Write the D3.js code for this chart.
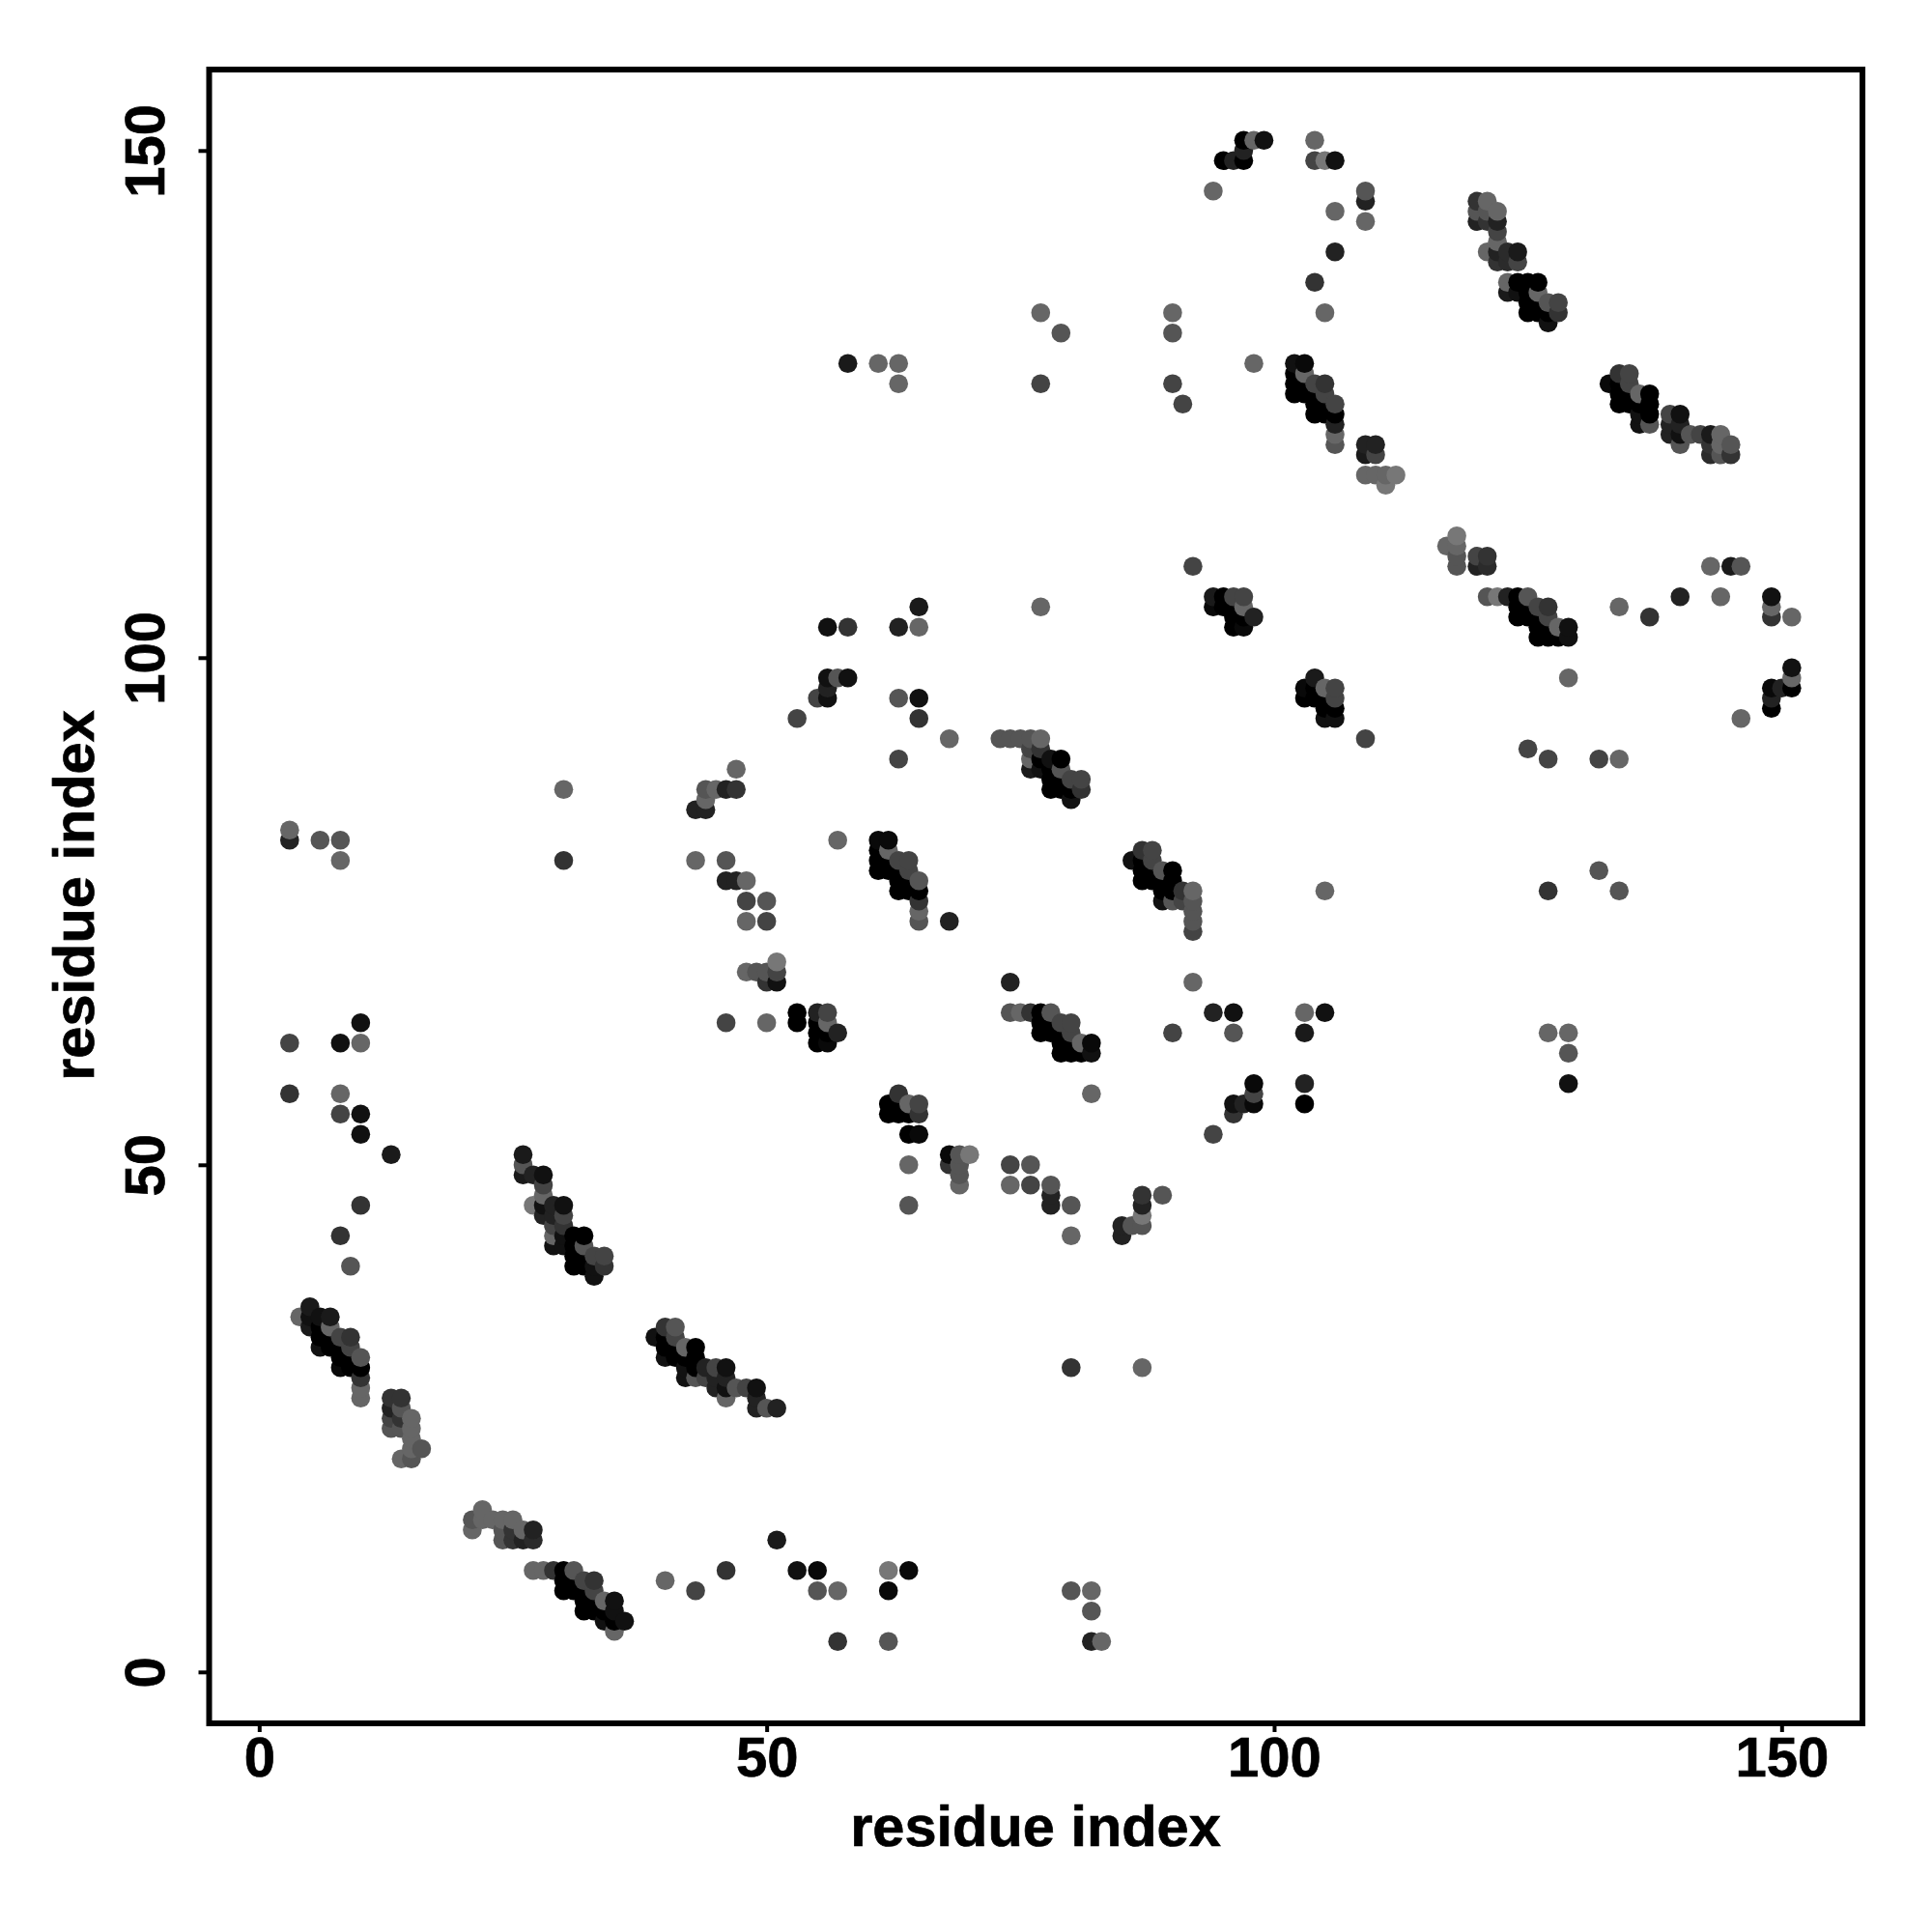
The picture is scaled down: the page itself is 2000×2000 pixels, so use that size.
<!DOCTYPE html>
<html><head><meta charset="utf-8">
<script src="https://cdn.jsdelivr.net/npm/d3@7"></script>
<style>html,body{margin:0;background:#fff}svg{display:block}</style>
</head><body><div id="chart"></div>
<script>
// each contact: [residue i, residue j, score]; score 0 (weak, light) .. 7 (strong, black)
const scattered = [[3,82,5],[3,83,1],[6,82,2],[8,82,2],[8,80,1],[30,87,1],[30,80,4],[3,62,3],[3,57,4],[8,62,6],[10,64,6],[10,62,1],[8,57,1],[8,55,3],[10,55,6],[10,53,6],[13,51,5.5],[10,46,4],[8,43,4],[9,40,2],
[40,9,1],[43,8,3],[46,10,4],[51,13,5.5],[53,10,6],[55,10,6.5],[55,8,2],[57,8,1],[57,3,4],[62,10,0],[64,10,6.5],[62,8,6.5],[62,3,2],[80,8,2],[82,8,1],[82,6,2],[82,3,5],[83,3,1],[80,30,4],[87,30,1],
[64,50,1],[64,46,2],[74,50,3],[74,48,1],[76,50,2],[76,48,3],[78,48,2],[78,47,5],[78,46,5],[80,46,2],[80,43,1],[85,44,5],[85,43,5],[86,44,2],[87,47,4],[87,46,5],[87,45,0],[87,44,2],[89,47,2],
[47,89,1],[47,87,4],[46,87,5],[45,87,1],[44,87,2],[44,86,1],[44,85,5],[43,85,5],[57,82,1],[68,74,5],[43,80,1],[46,80,2],[46,78,5],[47,78,5],[48,78,1],[48,76,3],[50,76,2],[48,74,1],[50,74,3],
[46,64,3],[50,64,1],[63,90,3],[68,92,1],[53,94,3],[65,94,4],[74,68,5],[92,68,1],[82,57,1],[90,63,3],[94,65,5],[96,65,6],[96,63,2],[103,65,1],[105,65,6],[103,63,5.5],[103,58,5],[103,56,7],[94,53,3],
[105,77,1],[109,92,3],[92,109,3],[129,98,1],[134,105,1],[137,104,4],[140,106,5],[144,106,1],[143,109,1],[145,109,5.5],[146,109,2],[149,106,6],[149,105,1],[149,104,4],[151,104,1],[146,94,1],
[125,91,3],[127,90,3],[132,90,3],[134,90,1],[132,79,2],[134,77,2],[127,77,4],[127,63,1],[129,63,1],[129,61,2],[129,58,6],
[94,146,1],[104,151,1],[104,149,3],[105,149,0],[106,149,6],[109,146,2],[109,145,5],[109,143,1],[106,144,1],[106,140,5],[104,137,4],[105,134,1],
[77,134,1],[79,132,2],[77,127,3],[90,134,1],[90,132,2],[90,127,3],[91,125,3],[98,129,1],[58,129,5.5],[61,129,1],[63,129,1],[63,127,1],
[77,105,1],[58,103,4],[56,103,6],[63,103,5],[65,103,1],[65,105,5.5],[63,96,2],[65,96,6]];

const helixA = [[4,35,1],[5,36,5.5],[5,35,6],[5,34,5.5],[6,35,6],[6,34,7],[6,33,7],[6,32,6],[7,35,5.5],[7,34,1],[7,33,7],[7,32,7],[8,33,3],[8,32,7],[8,31,7],[8,30,6.5],[9,33,4],[9,32,3],[9,31,7],[9,30,7],[10,31,2],[10,30,7],[10,29,4],[10,28,1],[10,27,1]];
const blobA = [[13,27,4],[13,26,5],[13,25,3],[13,24,2],[14,27,4],[14,26,2],[14,25,4],[14,24,2],[14,21,1],[15,25,1],[15,24,1],[15,23,1],[15,22,1],[15,21,2],[16,22,2]];
const helixB = [[26,51,5.5],[26,50,2],[26,49,5.5],[27,49,5],[27,46,0],[28,49,6],[28,48,3],[28,47,1],[28,46,6],[28,45,5],[29,46,5],[29,45,5],[29,44,3],[29,43,1],[29,42,6],[30,46,6],[30,45,3],[30,44,4],[30,43,6],[30,42,6],[31,43,7],[31,42,7],[31,41,7],[31,40,7],[32,43,7],[32,42,2],[32,41,7],[32,40,7],[33,41,3],[33,40,6],[33,39,6],[34,41,3],[34,40,4]];
const helixC = [[39,33,6],[40,34,4],[40,33,7],[40,32,7],[40,31,6],[41,34,2],[41,33,3],[41,32,7],[41,31,7],[42,32,1],[42,31,7],[42,30,6],[42,29,6],[43,32,7],[43,31,7],[43,30,7],[43,29,2],[44,30,5],[44,29,3],[45,30,3],[45,29,5],[45,28,5],[46,30,6],[46,29,5],[46,28,6],[46,27,1],[47,28,2],[48,28,3],[49,28,6],[49,27,5],[49,26,5],[50,26,2],[51,26,5]];
const strandA = [[21,15,2],[21,14,1],[22,16,1],[22,15,1],[23,15,1],[24,15,1],[24,14,2],[24,13,2],[25,15,1],[25,14,4],[25,13,4],[26,14,1],[26,13,5],[27,14,5],[27,13,4.5]];
const helixD = [[27,10,1],[28,10,1],[29,10,4],[30,10,7],[30,9,7],[30,8,7],[31,10,2],[31,9,7],[31,8,7],[32,9,3],[32,8,7],[32,7,7],[32,6,7],[33,9,4],[33,8,3],[33,7,7],[33,6,7],[34,7,1],[34,6,7],[34,5,6],[35,7,6],[35,6,6],[35,5,7],[35,4,1],[36,5,6]];
const blobB = [[62,56,7],[62,55,7],[63,57,4],[63,56,7],[63,55,7],[64,56,1],[64,55,7],[64,53,7],[65,56,3],[65,55,4],[65,53,6.5],[68,51,6.5],[68,50,4],[69,51,2],[69,50,2],[69,49,2],[69,48,1],[70,51,0]];
const helixE = [[61,82,6.5],[61,81,7],[61,80,7],[61,79,7],[62,82,6.5],[62,81,1],[62,80,7],[62,79,7],[63,80,3],[63,79,7],[63,78,7],[63,77,7],[64,80,3],[64,79,3],[64,78,7],[64,77,7],[65,78,2],[65,77,7],[65,76,4],[65,75,1],[65,74,2]];
const blobC = [[48,69,1],[49,69,2],[50,69,2],[50,68,4],[51,70,0],[51,69,3],[51,68,6],[53,65,7],[53,64,7],[55,65,5],[55,64,7],[55,63,7],[55,62,7],[56,65,3],[56,64,1],[56,63,7],[56,62,6.5],[57,63,5]];
const helixF = [[73,92,2],[74,92,2],[75,92,2],[76,92,2],[76,91,3],[76,90,1],[76,89,5.5],[77,92,1],[77,91,4],[77,90,7],[77,89,6],[78,90,6],[78,89,7],[78,88,7],[78,87,7],[79,90,7],[79,89,2],[79,88,7],[79,87,7],[80,88,3],[80,87,7],[80,86,6],[81,88,3],[81,87,4]];
const helixG = [[86,80,6],[87,81,4],[87,80,7],[87,79,7],[87,78,7],[88,81,3],[88,80,3],[88,79,7],[88,78,7],[89,79,2],[89,78,7],[89,77,7],[89,76,6],[90,79,7],[90,78,7],[90,77,7],[90,76,2],[91,77,4],[91,76,3],[92,77,1],[92,76,2],[92,75,2],[92,74,2],[92,73,3]];
const helixH = [[74,65,2],[75,65,1],[76,65,4],[77,65,7],[77,64,7],[77,63,7],[78,65,2],[78,64,7],[78,63,7],[79,64,3],[79,63,7],[79,62,7],[79,61,7],[80,64,3],[80,63,3],[80,62,7],[80,61,7],[81,62,1],[81,61,7],[82,62,6.5],[82,61,6]];
const blobD = [[96,56,6],[96,55,4],[97,56,5],[98,58,6.5],[98,57,3],[98,56,6.5],[103,97,6.5],[103,96,7],[104,98,5.5],[104,97,7],[104,96,7],[105,97,1],[105,96,7],[105,95,7],[105,94,6],[106,97,3],[106,96,3],[106,95,7],[106,94,6]];
const blobE = [[94,106,5.5],[94,105,6.5],[95,106,7],[95,105,7],[96,106,3],[96,105,7],[96,104,7],[96,103,7],[97,106,3],[97,105,1],[97,104,7],[97,103,6.5],[98,104,5]];
const blobF = [[117,111,1],[118,112,0],[118,111,1],[118,110,2],[118,109,2],[120,110,3],[120,109,5],[121,110,4],[121,109,4.5]];
const helixI = [[121,106,2],[122,106,0],[123,106,5],[124,106,7],[124,105,7],[124,104,7],[125,106,2],[125,105,7],[125,104,7],[126,105,3],[126,104,7],[126,103,7],[126,102,7],[127,105,4],[127,104,3],[127,103,7],[127,102,7],[128,103,1],[128,102,7],[129,103,6],[129,102,6]];
const blobG = [[149,97,6.5],[149,96,5],[149,95,7],[150,97,5],[151,99,6],[151,98,1],[151,97,7]];
const blobH = [[55,96,3],[56,98,6],[56,97,5],[56,96,6],[57,98,2],[58,98,6]];
const topStrand = [[95,149,7],[96,149,5],[97,151,7],[97,150,5],[97,149,7],[98,151,1],[99,151,6]];
const helixJ = [[120,145,4],[120,144,2],[120,143,5],[121,145,1],[121,144,2],[121,143,4],[121,140,1],[122,144,1],[122,143,5],[122,142,3],[122,141,1],[122,140,5],[122,139,4],[123,140,4.5],[123,139,4.5],[123,137,1],[123,136,5.5],[124,140,5.5],[124,139,3],[124,137,7],[124,136,6],[125,137,7],[125,136,7],[125,135,7],[125,134,7],[126,137,7],[126,136,1],[126,135,7],[126,134,7],[127,135,2],[127,134,7],[127,133,6],[128,135,3],[128,134,4]];
const helixK = [[102,129,6],[102,128,7],[102,127,7],[102,126,7],[103,129,6.5],[103,128,1],[103,127,7],[103,126,7],[104,127,3],[104,126,7],[104,125,7],[104,124,7],[105,127,4],[105,126,3],[105,125,7],[105,124,7],[106,125,3],[106,124,7],[106,123,5],[106,122,1],[106,121,2]];
const blobI = [[109,121,5],[109,120,5.5],[109,118,1],[110,121,5],[110,120,3],[110,118,1],[111,118,1],[111,117,0],[112,118,0]];
const helixL = [[133,127,6.5],[134,128,4],[134,127,7],[134,126,7],[134,125,7],[135,128,3],[135,127,3],[135,126,7],[135,125,7],[136,126,1],[136,125,7],[136,124,6],[136,123,6],[137,126,7],[137,125,7],[137,124,7],[137,123,2],[139,124,3],[139,123,5],[139,122,5],[140,124,6],[140,123,5],[140,122,6],[140,121,2],[141,122,2],[142,122,3],[143,122,5.5],[143,121,4],[143,120,4.5],[144,122,1],[144,121,1],[144,120,2],[145,121,2],[145,120,4]];

const xTicks = [0, 50, 100, 150];
const yTicks = [0, 50, 100, 150];
const xLabel = "residue index";
const yLabel = "residue index";

const contacts = [].concat(scattered, helixA, blobA, helixB, helixC, strandA, helixD, blobB, helixE, blobC,
  helixF, helixG, helixH, blobD, blobE, blobF, helixI, blobG, blobH, topStrand, helixJ, helixK, blobI, helixL);
contacts.sort((a, b) => d3.ascending(a[0], b[0]) || d3.ascending(a[1], b[1]));

const FONT = "'Liberation Sans', Arial, Helvetica, sans-serif";
const svg = d3.select("#chart").append("svg").attr("width", 2000).attr("height", 2000);
svg.append("rect").attr("width", 2000).attr("height", 2000).attr("fill", "#fff");

const x = d3.scaleLinear().domain([0, 150]).range([268.3, 1844.3]);
const y = d3.scaleLinear().domain([0, 150]).range([1730.8, 155.8]);
const shade = d3.scaleLinear().domain([0, 7]).range(["#777777", "#000000"]);

const frame = {left: 216.5, right: 1928, top: 72, bottom: 1784};

svg.append("g").selectAll("circle").data(contacts).join("circle")
  .attr("cx", d => x(d[0])).attr("cy", d => y(d[1])).attr("r", 9.8)
  .attr("fill", d => shade(d[2]));

const gx = svg.append("g").attr("transform", `translate(0,${frame.bottom})`)
  .call(d3.axisBottom(x).tickValues(xTicks).tickSize(9).tickPadding(7).tickFormat(d3.format("d")));
const gy = svg.append("g").attr("transform", `translate(${frame.left},0)`)
  .call(d3.axisLeft(y).tickValues(yTicks).tickSize(11).tickFormat(d3.format("d")));
[gx, gy].forEach(g => {
  g.select(".domain").remove();
  g.selectAll("line").attr("stroke", "#000").attr("stroke-width", 4);
  g.selectAll("text").attr("font-family", FONT).attr("font-weight", "bold").attr("font-size", 58)
    .attr("fill", "#000").attr("stroke", "#000").attr("stroke-width", 0.7);
});
gy.selectAll("text")
  .attr("text-anchor", "middle").attr("dy", 0).attr("x", 0).attr("y", 0)
  .attr("transform", `translate(${170 - frame.left},0) rotate(-90)`);
gx.selectAll("text").attr("dy", 0).attr("y", 1839 - frame.bottom);

svg.append("rect").attr("x", frame.left).attr("y", frame.top)
  .attr("width", frame.right - frame.left).attr("height", frame.bottom - frame.top)
  .attr("fill", "none").attr("stroke", "#000").attr("stroke-width", 6);

svg.append("text").attr("x", 1072).attr("y", 1911).attr("text-anchor", "middle")
  .attr("font-family", FONT).attr("font-weight", "bold").attr("font-size", 59.5)
  .attr("stroke", "#000").attr("stroke-width", 0.7).text(xLabel);
svg.append("text").attr("transform", "translate(97,927) rotate(-90)").attr("text-anchor", "middle")
  .attr("font-family", FONT).attr("font-weight", "bold").attr("font-size", 59.5)
  .attr("stroke", "#000").attr("stroke-width", 0.7).text(yLabel);
</script></body></html>
